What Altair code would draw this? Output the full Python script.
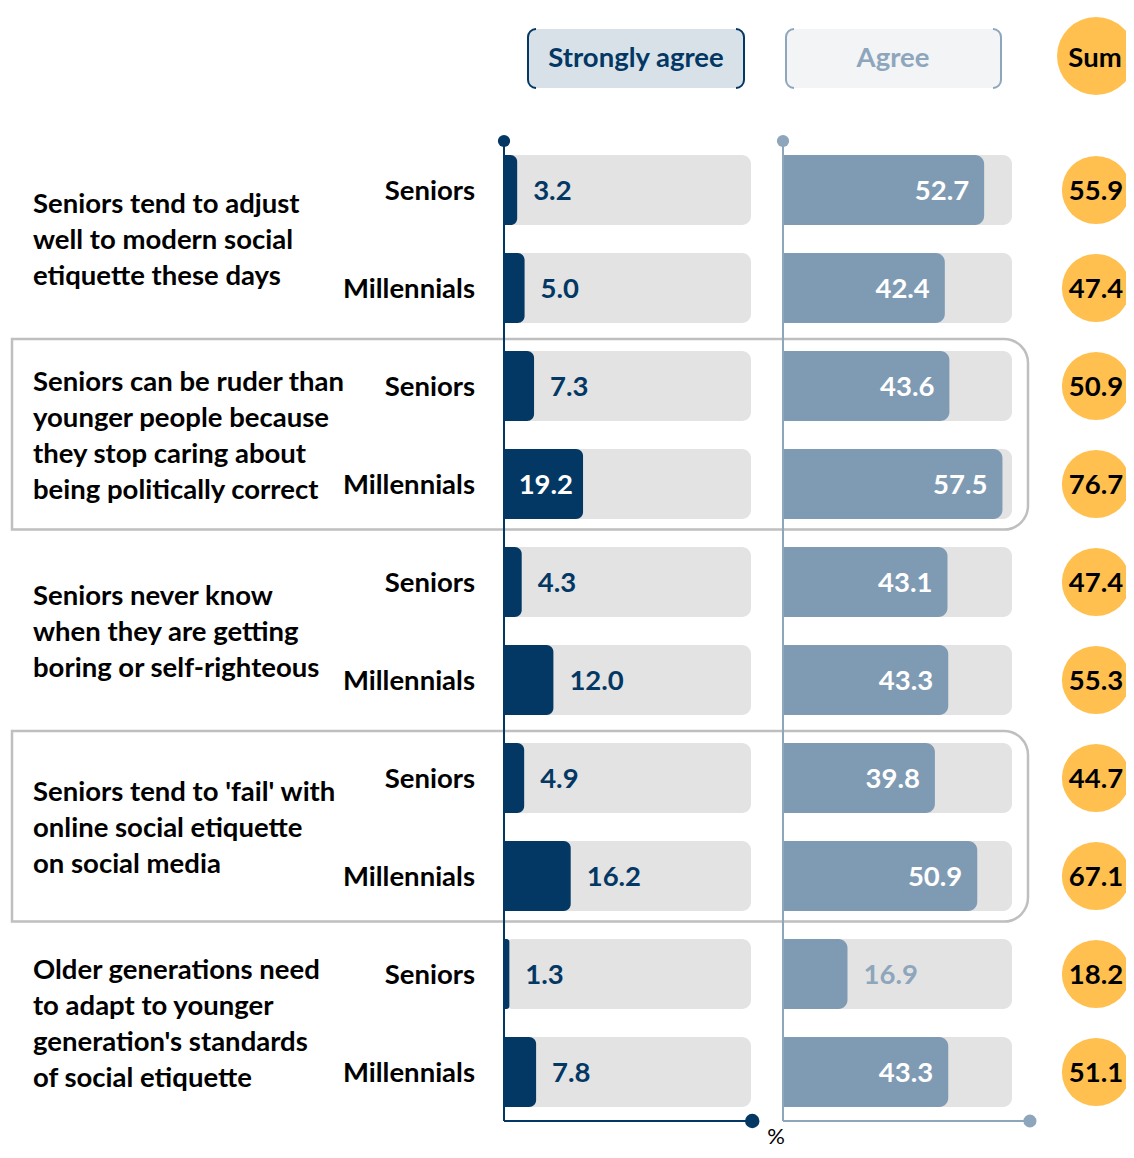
import math
import altair as alt
import pandas as pd

# ---------------- data ----------------
statements = [
    ["Seniors tend to adjust", "well to modern social", "etiquette these days"],
    ["Seniors can be ruder than", "younger people because", "they stop caring about", "being politically correct"],
    ["Seniors never know", "when they are getting", "boring or self-righteous"],
    ["Seniors tend to 'fail' with", "online social etiquette", "on social media"],
    ["Older generations need", "to adapt to younger", "generation's standards", "of social etiquette"],
]
groups = ["Seniors", "Millennials"]
strongly_agree = [3.2, 5.0, 7.3, 19.2, 4.3, 12.0, 4.9, 16.2, 1.3, 7.8]
agree = [52.7, 42.4, 43.6, 57.5, 43.1, 43.3, 39.8, 50.9, 16.9, 43.3]
sums = [55.9, 47.4, 50.9, 76.7, 47.4, 55.3, 44.7, 67.1, 18.2, 51.1]
framed_statements = [1, 3]
legend_names = ["Strongly agree", "Agree", "Sum"]
unit_label = "%"
track_max = 60

# ---------------- style ----------------
FONT = "Lato"
NAVY = "#033764"
STEEL = "#7f9bb4"
STEEL_LIGHT = "#8ea6bc"
TRACK = "#e3e3e3"
ORANGE = "#ffc04f"
FRAME = "#bfbfbf"
W, H = 1118, 1142
FS = 27.5
LINE_H = 36
ROW_PX = 98
SUM_X = 1088

rows = pd.DataFrame({
    "pos": list(range(len(strongly_agree))),
    "group": [groups[i % 2] for i in range(len(strongly_agree))],
    "sa": strongly_agree,
    "ag": agree,
    "sum": sums,
})
stm = pd.DataFrame({
    "text": ["\n".join(s) for s in statements],
    "nlines": [len(s) for s in statements],
    "mid": [2 * k + 0.5 for k in range(len(statements))],
    "framed": [k in framed_statements for k in range(len(statements))],
})
one = pd.DataFrame({"k": [0]})

Y = alt.Scale(domain=[0, 9], range=[182, 182 + 9 * ROW_PX], nice=False, zero=False)
XSA = alt.Scale(domain=[0, track_max], range=[496, 743], nice=False, zero=False)
XAG = alt.Scale(domain=[0, track_max], range=[775, 1004], nice=False, zero=False)


def yq(f):
    return alt.Y(f, scale=Y, axis=None)


base = alt.Chart(rows).transform_calculate(
    top="datum.pos - 0.357", bot="datum.pos + 0.357", zero="0", full=str(track_max)
)

layers = []

# highlight frames
frames = alt.Chart(stm).transform_filter("datum.framed").transform_calculate(
    ft="datum.mid - 0.98", fb="datum.mid + 0.965"
).mark_rect(filled=False, stroke=FRAME, strokeWidth=2.5,
            cornerRadiusTopRight=24, cornerRadiusBottomRight=24).encode(
    x=alt.value(4), x2=alt.value(1020), y=yq("ft:Q"), y2="fb:Q"
)
layers.append(frames)

# tracks
for sc in (XSA, XAG):
    layers.append(base.mark_rect(color=TRACK, cornerRadius=9).encode(
        x=alt.X("zero:Q", scale=sc, axis=None), x2="full:Q", y=yq("top:Q"), y2="bot:Q"))

# value bars
layers.append(base.mark_rect(color=NAVY, cornerRadiusTopRight=7, cornerRadiusBottomRight=7).encode(
    x=alt.X("zero:Q", scale=XSA, axis=None), x2="sa:Q", y=yq("top:Q"), y2="bot:Q"))
layers.append(base.mark_rect(color=STEEL, cornerRadiusTopRight=9, cornerRadiusBottomRight=9).encode(
    x=alt.X("zero:Q", scale=XAG, axis=None), x2="ag:Q", y=yq("top:Q"), y2="bot:Q"))

txt = dict(font=FONT, fontWeight="bold", fontSize=FS, baseline="middle", dy=2)

# value labels
layers.append(base.transform_filter("datum.sa < 18").mark_text(align="left", dx=16, color=NAVY, **txt).encode(
    x=alt.X("sa:Q", scale=XSA, axis=None), y=yq("pos:Q"), text=alt.Text("sa:Q", format=".1f")))
layers.append(base.transform_filter("datum.sa >= 18").mark_text(align="right", dx=-10, color="white", **txt).encode(
    x=alt.X("sa:Q", scale=XSA, axis=None), y=yq("pos:Q"), text=alt.Text("sa:Q", format=".1f")))
layers.append(base.transform_filter("datum.ag >= 25").mark_text(align="right", dx=-15, color="white", **txt).encode(
    x=alt.X("ag:Q", scale=XAG, axis=None), y=yq("pos:Q"), text=alt.Text("ag:Q", format=".1f")))
layers.append(base.transform_filter("datum.ag < 25").mark_text(align="left", dx=16, color=STEEL_LIGHT, **txt).encode(
    x=alt.X("ag:Q", scale=XAG, axis=None), y=yq("pos:Q"), text=alt.Text("ag:Q", format=".1f")))

# axes (L-shaped lines with end dots)
for sc, color, xend, dot_top, dot_end in ((XSA, NAVY, 60.3, 150, 210), (XAG, STEEL_LIGHT, 64.7, 150, 170)):
    c = alt.Chart(one)
    layers.append(c.mark_rule(color=color, strokeWidth=2).encode(
        x=alt.X(datum=0, scale=sc, axis=None), y=alt.Y(datum=-0.5, scale=Y, axis=None), y2=alt.datum(9.5)))
    layers.append(c.mark_rule(color=color, strokeWidth=2).encode(
        x=alt.X(datum=0, scale=sc, axis=None), x2=alt.datum(xend), y=alt.Y(datum=9.5, scale=Y, axis=None)))
    layers.append(c.mark_circle(color=color, opacity=1, size=dot_top).encode(
        x=alt.X(datum=0, scale=sc, axis=None), y=alt.Y(datum=-0.5, scale=Y, axis=None)))
    layers.append(c.mark_circle(color=color, opacity=1, size=dot_end).encode(
        x=alt.X(datum=xend, scale=sc, axis=None), y=alt.Y(datum=9.5, scale=Y, axis=None)))

# group labels
layers.append(base.mark_text(align="right", color="black", **txt).encode(
    x=alt.value(467), y=yq("pos:Q"), text="group:N"))

# statement labels (block vertically centred on the pair of rows)
layers.append(alt.Chart(stm).transform_calculate(
    first=f"datum.mid - (datum.nlines - 1) * {LINE_H / 2} / {ROW_PX}"
).mark_text(align="left", color="black", lineBreak="\n", lineHeight=LINE_H, **txt).encode(
    x=alt.value(25), y=yq("first:Q"), text="text:N"))

# sum circles
layers.append(base.mark_circle(color=ORANGE, opacity=1, size=math.pi * 38.5 ** 2).encode(
    x=alt.value(SUM_X), y=yq("pos:Q")))
layers.append(base.mark_text(align="center", color="black", **txt).encode(
    x=alt.value(SUM_X), y=yq("pos:Q"), text=alt.Text("sum:Q", format=".1f")))


# legend header
def bracket_box(L, R, T, B, fill, color):
    r = 8
    out = []
    c = alt.Chart(one)
    out.append(c.mark_rect(color=fill, cornerRadius=r).encode(
        x=alt.value(L), x2=alt.value(R), y=alt.value(T), y2=alt.value(B)))
    for xv in (L, R):
        out.append(c.mark_rule(color=color, strokeWidth=2).encode(
            x=alt.value(xv), y=alt.value(T + r), y2=alt.value(B - r)))
    corners = [
        (L + r, T + r, 1.5 * math.pi, 2 * math.pi),
        (R - r, T + r, 0, 0.5 * math.pi),
        (R - r, B - r, 0.5 * math.pi, math.pi),
        (L + r, B - r, math.pi, 1.5 * math.pi),
    ]
    for cx, cy, t1, t2 in corners:
        out.append(c.mark_arc(color=color, radius=r + 1, radius2=r - 1, theta=t1, theta2=t2).encode(
            x=alt.value(cx), y=alt.value(cy)))
    return out


layers += bracket_box(520, 736, 21, 80, "#d9e1e8", NAVY)
layers += bracket_box(778, 993, 21, 80, "#f2f4f6", STEEL_LIGHT)
head = alt.Chart(pd.DataFrame({"name": legend_names}))
layers.append(head.transform_filter("datum.name == 'Sum'").mark_circle(
    color=ORANGE, opacity=1, size=math.pi * 44 ** 2).encode(x=alt.value(SUM_X), y=alt.value(48)))
for name, xv, col in ((legend_names[0], 628, NAVY), (legend_names[1], 885, STEEL_LIGHT), (legend_names[2], SUM_X - 1, "black")):
    layers.append(head.transform_filter(alt.datum.name == name).mark_text(
        align="center", color=col, **txt).encode(x=alt.value(xv), y=alt.value(49), text="name:N"))

# unit label
layers.append(alt.Chart(pd.DataFrame({"u": [unit_label]})).mark_text(
    font=FONT, fontSize=22, color="black", baseline="middle", align="center").encode(
    x=alt.value(768), y=alt.value(1129), text="u:N"))

chart = alt.layer(*layers).resolve_scale(x="independent").properties(
    width=W, height=H, padding=0, autosize="none", background="white"
).configure_view(stroke=None)

chart.save("out.html", embed_options={"renderer": "svg", "actions": False})
